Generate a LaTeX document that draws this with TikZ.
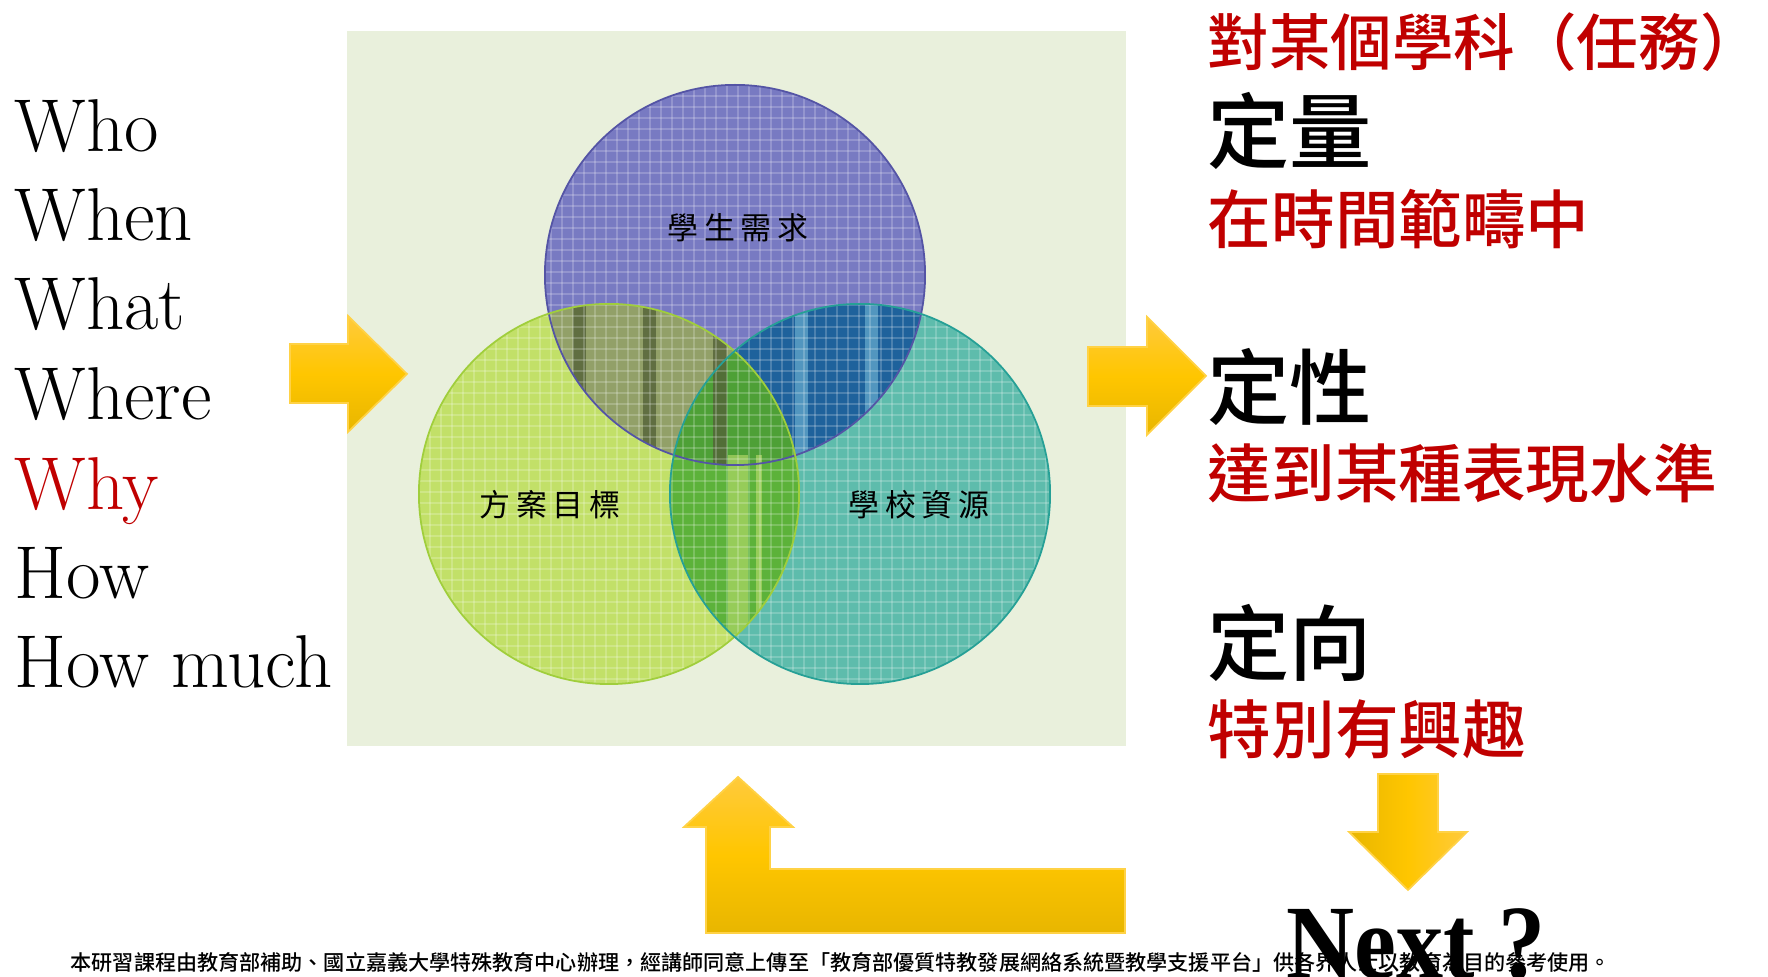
\documentclass[tikz,border=0pt]{standalone}
\usepackage{fontspec}
\newfontfamily\cjk{Noto Sans CJK TC}
\newfontfamily\cjkm{Noto Sans CJK TC Medium}
\newfontfamily\nextfont{Liberation Serif}
\definecolor{panel}{RGB}{233,240,220}
\definecolor{cTop}{RGB}{120,122,194}
\definecolor{cTopE}{RGB}{84,84,165}
\definecolor{cLeft}{RGB}{194,224,104}
\definecolor{cLeftE}{RGB}{160,206,60}
\definecolor{cRight}{RGB}{94,188,172}
\definecolor{cRightE}{RGB}{38,160,150}
\definecolor{cTL}{RGB}{146,160,104}
\definecolor{cTR}{RGB}{30,98,156}
\definecolor{cLR}{RGB}{92,178,58}
\definecolor{cAll}{RGB}{78,160,54}
\definecolor{stripeD}{RGB}{84,98,56}
\definecolor{stripeB}{RGB}{96,164,200}
\definecolor{stripeG}{RGB}{190,222,110}
\definecolor{redt}{RGB}{192,0,0}
\definecolor{yTop}{RGB}{255,202,60}
\definecolor{yMid}{RGB}{255,198,0}
\definecolor{yBot}{RGB}{232,182,0}
\definecolor{arrowedge}{RGB}{255,210,70}
\begin{document}
\begin{tikzpicture}[x=0.01cm,y=-0.01cm,
  word/.style={font=\fontsize{21.3}{25}\selectfont, inner sep=0, anchor=base west},
  redtxt/.style={font=\cjkm\fontsize{18.1}{21}\selectfont, text=redt, inner sep=0, anchor=west},
  blktxt/.style={font=\cjkm\fontsize{23.4}{27}\selectfont, inner sep=0, anchor=west},
  venn/.style={font=\cjk\fontsize{8.8}{10}\selectfont, inner sep=0},
  gridline/.style={white, opacity=0.2, line width=0.4pt},
  varrow/.style={draw=arrowedge, line width=0.5pt, top color=yTop, bottom color=yBot, middle color=yMid},
  harrow/.style={draw=arrowedge, line width=0.5pt, left color=yBot, right color=yTop, middle color=yMid}]
\def\R{1.9cm}
\useasboundingbox (0,0) rectangle (1768,977);
\fill[white] (0,0) rectangle (1768,977);
% panel
\fill[panel] (347,31) rectangle (1126,746);
% circles
\coordinate (cT) at (735,275);
\coordinate (cL) at (609,494);
\coordinate (cR) at (860,494);
\fill[cTop] (cT) circle[radius=\R];
\fill[cLeft] (cL) circle[radius=\R];
\fill[cRight] (cR) circle[radius=\R];
\begin{scope}\clip (cT) circle[radius=\R]; \fill[cTL] (cL) circle[radius=\R];\end{scope}
\begin{scope}\clip (cT) circle[radius=\R]; \fill[cTR] (cR) circle[radius=\R];\end{scope}
\begin{scope}\clip (cL) circle[radius=\R]; \fill[cLR] (cR) circle[radius=\R];\end{scope}
\begin{scope}\clip (cT) circle[radius=\R]; \clip (cL) circle[radius=\R]; \fill[cAll] (cR) circle[radius=\R];\end{scope}
% stripes
\begin{scope}\clip (cT) circle[radius=\R]; \clip (cL) circle[radius=\R];
  \fill[stripeD, opacity=0.8] (573,290) rectangle (586,470);
  \fill[stripeD, opacity=0.8] (643,290) rectangle (656,470);
  \fill[stripeD, opacity=0.8] (713,290) rectangle (727,470);
\end{scope}
\begin{scope}\clip (cT) circle[radius=\R]; \clip (cR) circle[radius=\R];
  \fill[stripeB, opacity=0.8] (795,290) rectangle (808,470);
  \fill[stripeB, opacity=0.8] (865,290) rectangle (878,470);
\end{scope}
\begin{scope}\clip (cL) circle[radius=\R]; \clip (cR) circle[radius=\R];
  \fill[stripeG, opacity=0.6] (728,455) rectangle (748,680);
  \fill[stripeG, opacity=0.6] (756,455) rectangle (762,680);
\end{scope}
% grid texture
\begin{scope}
  \clip (cT) circle[radius=\R] (cL) circle[radius=\R] (cR) circle[radius=\R];
  \foreach \g in {419,430,...,1052} {\draw[gridline] (\g,80) -- (\g,690);}
  \foreach \g in {85,96,...,690} {\draw[gridline] (415,\g) -- (1055,\g);}
\end{scope}
% outlines
\draw[cTopE, line width=0.5pt] (cT) circle[radius=\R];
\draw[cLeftE, line width=0.5pt] (cL) circle[radius=\R];
\draw[cRightE, line width=0.5pt] (cR) circle[radius=\R];
% venn labels
\node[venn] (lT) at (738,228) {學\kern1.6pt 生\kern1.6pt 需\kern1.6pt 求};
\node[venn] (lL) at (550,505) {方\kern1.6pt 案\kern1.6pt 目\kern1.6pt 標};
\node[venn] (lR) at (919,505) {學\kern1.6pt 校\kern1.6pt 資\kern1.6pt 源};
% left words
\node[word] (w1) at (14,152) {Who};
\node[word] (w2) at (14,241) {When};
\node[word] (w3) at (14,330) {What};
\node[word] (w4) at (14,420) {Where};
\node[word, text=redt] (w5) at (14,510) {Why};
\node[word] (w6) at (14,599) {How};
\node[word] (w7) at (14,688) {How much};
% arrows
\path[varrow] (290,344) -- (348,344) -- (348,316) -- (407,374) -- (348,432) -- (348,403) -- (290,403) -- cycle;
\path[varrow] (1088,347) -- (1147,347) -- (1147,317) -- (1206,376) -- (1147,435) -- (1147,406) -- (1088,406) -- cycle;
\path[harrow] (1378,774) -- (1438,774) -- (1438,832) -- (1467,832) -- (1408,890) -- (1349,832) -- (1378,832) -- cycle;
\path[varrow] (738,777) -- (793,827) -- (770,827) -- (770,869) -- (1125,869) -- (1125,933) -- (706,933) -- (706,827) -- (684,827) -- cycle;
% right texts
\node[redtxt, font=\cjkm\fontsize{17.5}{21}\selectfont] (t0) at (1207,42) {對某個學科（任務）};
\node[blktxt] (q1) at (1207,131) {定量};
\node[redtxt] (d1) at (1207,219) {在時間範疇中};
\node[blktxt] (q2) at (1207,387) {定性};
\node[redtxt] (d2) at (1207,473) {達到某種表現水準};
\node[blktxt] (q3) at (1207,643) {定向};
\node[redtxt] (d3) at (1207,729) {特別有興趣};
% footer
\node[font=\cjkm\fontsize{6.0}{7}\selectfont, anchor=west, inner sep=0] (foot) at (70,962) {本研習課程由教育部補助、國立嘉義大學特殊教育中心辦理，經講師同意上傳至「教育部優質特教發展網絡系統暨教學支援平台」供各界人士以教育為目的參考使用。};
% Next
\node[font=\nextfont\bfseries\fontsize{26.8}{30}\selectfont, anchor=base west, inner sep=0] (next) at (1286,979) {\scalebox{1}[1.12]{Next ?}};
\end{tikzpicture}
\end{document}
